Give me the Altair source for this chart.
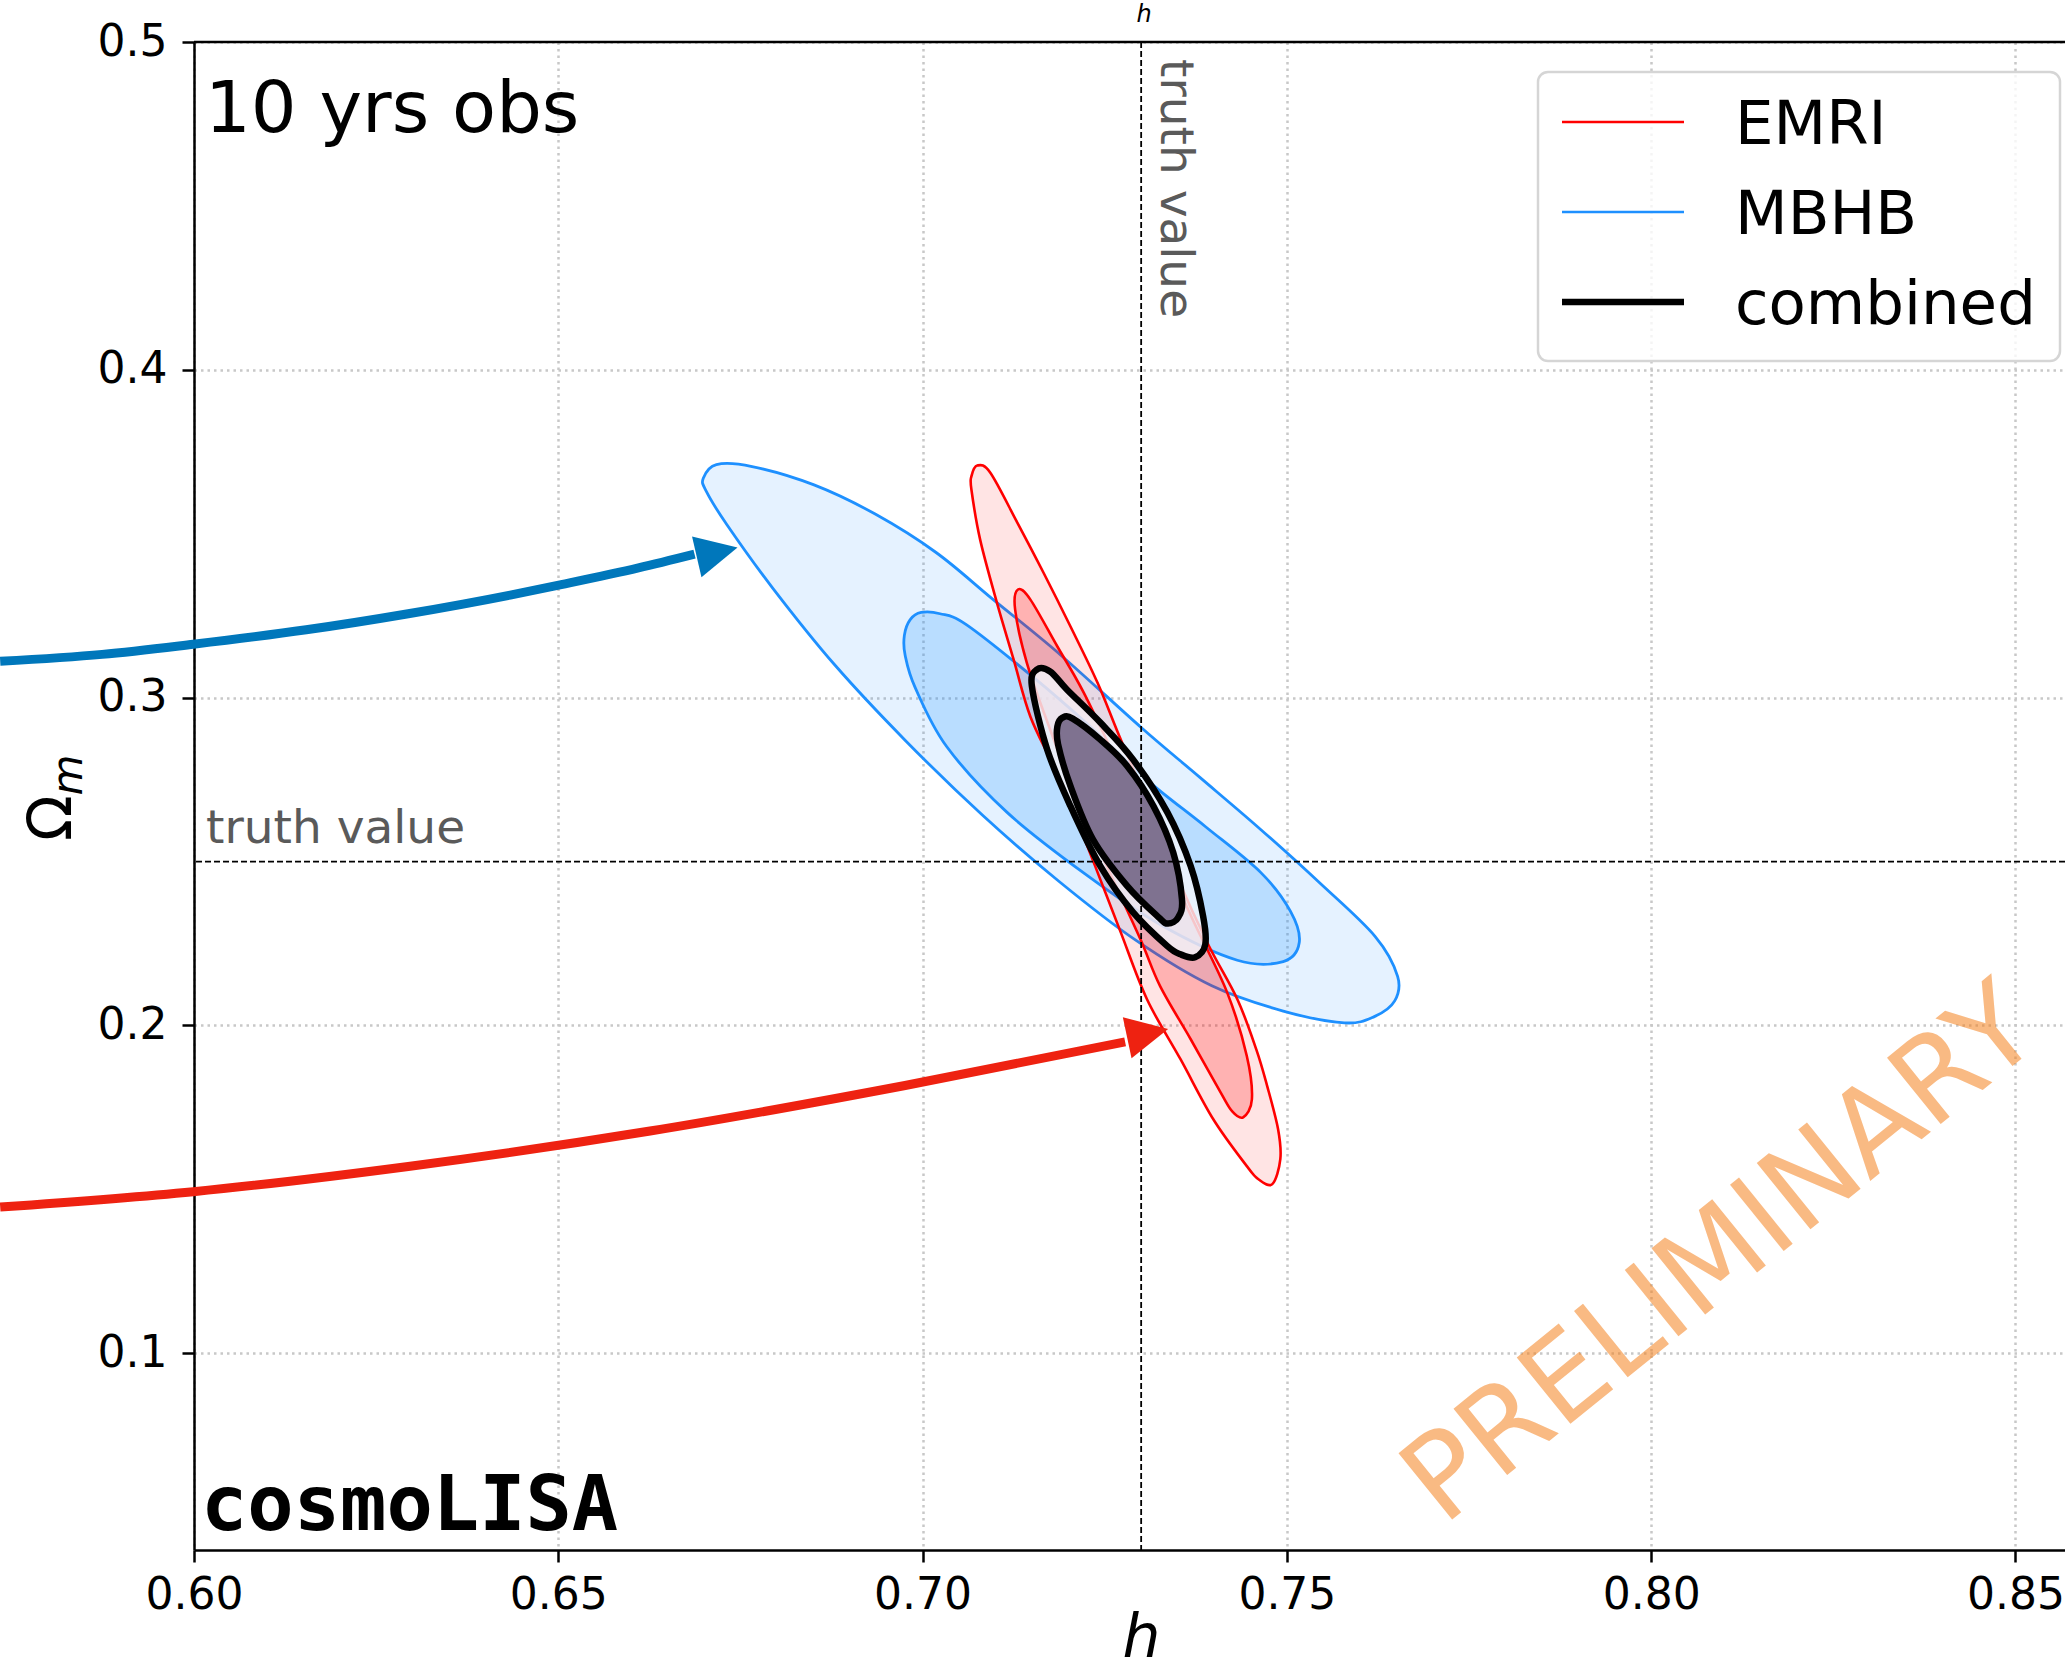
import altair as alt
import pandas as pd

# ---- axes ---------------------------------------------------------------
h_domain = [0.6, 0.8568]
om_domain = [0.04, 0.5]
h_ticks = [0.60, 0.65, 0.70, 0.75, 0.80, 0.85]
om_ticks = [0.1, 0.2, 0.3, 0.4, 0.5]

# fiducial cosmology
h_true = 0.73
om_true = 0.25

# ---- credible-region outlines (vertices in h, Omega_m) ------------------
mbhb_outer_h = [0.6699, 0.6717, 0.6766, 0.6851, 0.6935, 0.7019, 0.7097, 0.7189, 0.7300,
                0.7381, 0.7464, 0.7546, 0.7621, 0.7652, 0.7648, 0.7620, 0.7579, 0.7495,
                0.7397, 0.7292, 0.7187, 0.7082, 0.6977, 0.6879, 0.6794, 0.6731, 0.6703]
mbhb_outer_om = [0.3669, 0.3711, 0.3705, 0.3649, 0.3560, 0.3442, 0.3299, 0.3131, 0.2909,
                 0.2756, 0.2598, 0.2433, 0.2272, 0.2150, 0.2075, 0.2027, 0.2008, 0.2044,
                 0.2121, 0.2261, 0.2440, 0.2642, 0.2868, 0.3101, 0.3335, 0.3529, 0.3630]

mbhb_inner_h = [0.6975, 0.6983, 0.6998, 0.7024, 0.7060, 0.7151, 0.7230, 0.7309, 0.7388,
                0.7464, 0.7505, 0.7517, 0.7495, 0.7432, 0.7326, 0.7222, 0.7116, 0.7033,
                0.6990, 0.6976]
mbhb_inner_om = [0.3190, 0.3238, 0.3260, 0.3256, 0.3223, 0.3064, 0.2912, 0.2747, 0.2607,
                 0.2467, 0.2348, 0.2253, 0.2195, 0.2199, 0.2308, 0.2464, 0.2650, 0.2851,
                 0.3030, 0.3130]

emri_outer_h = [0.7075, 0.7093, 0.7130, 0.7166, 0.7203, 0.7240, 0.7272, 0.7313, 0.7351,
                0.7392, 0.7432, 0.7458, 0.7473, 0.7488, 0.7491, 0.7480, 0.7461, 0.7445,
                0.7399, 0.7354, 0.7308, 0.7272, 0.7244, 0.7217, 0.7182, 0.7148, 0.7125,
                0.7102, 0.7079, 0.7067, 0.7067]
emri_outer_om = [0.3708, 0.3686, 0.3534, 0.3381, 0.3217, 0.3046, 0.2872, 0.2659, 0.2445,
                 0.2247, 0.2080, 0.1927, 0.1815, 0.1683, 0.1592, 0.1516, 0.1531, 0.1571,
                 0.1714, 0.1897, 0.2080, 0.2284, 0.2445, 0.2598, 0.2781, 0.2942, 0.3116,
                 0.3290, 0.3482, 0.3635, 0.3675]

emri_inner_h = [0.7131, 0.7148, 0.7185, 0.7221, 0.7272, 0.7326, 0.7374, 0.7418, 0.7445,
                0.7452, 0.7440, 0.7425, 0.7409, 0.7368, 0.7326, 0.7299, 0.7258, 0.7217,
                0.7175, 0.7143, 0.7127]
emri_inner_om = [0.3330, 0.3299, 0.3156, 0.3016, 0.2781, 0.2537, 0.2308, 0.2101, 0.1907,
                 0.1775, 0.1720, 0.1738, 0.1796, 0.1958, 0.2120, 0.2263, 0.2461, 0.2659,
                 0.2903, 0.3107, 0.3269]

comb_outer_h = [0.7157, 0.7175, 0.7198, 0.7244, 0.7289, 0.7336, 0.7368, 0.7385, 0.7388,
                0.7374, 0.7354, 0.7336, 0.7289, 0.7244, 0.7203, 0.7171, 0.7150]
comb_outer_om = [0.3086, 0.3080, 0.3025, 0.2924, 0.2811, 0.2650, 0.2486, 0.2334, 0.2247,
                 0.2208, 0.2217, 0.2242, 0.2345, 0.2486, 0.2669, 0.2842, 0.3035]

comb_inner_h = [0.7185, 0.7192, 0.7206, 0.7244, 0.7281, 0.7317, 0.7344, 0.7356, 0.7351,
                0.7337, 0.7324, 0.7281, 0.7234, 0.7203, 0.7186]
comb_inner_om = [0.2912, 0.2939, 0.2936, 0.2872, 0.2791, 0.2669, 0.2528, 0.2385, 0.2330,
                 0.2311, 0.2330, 0.2425, 0.2567, 0.2730, 0.2857]

# ---- annotation arrows --------------------------------------------------
blue_arrow_h = [0.5734, 0.5874, 0.5999, 0.6154, 0.6294, 0.6434, 0.6504, 0.6610, 0.6687]
blue_arrow_om = [0.3111, 0.3132, 0.3163, 0.3207, 0.3256, 0.3313, 0.3345, 0.3396, 0.3438]
blue_tip = (0.6746, 0.3458)

red_arrow_h = [0.5734, 0.5999, 0.6294, 0.6626, 0.6976, 0.7278]
red_arrow_om = [0.1446, 0.1493, 0.1570, 0.1678, 0.1817, 0.1950]
red_tip = (0.7337, 0.1989)

legend_labels = ["EMRI", "MBHB", "combined"]
legend_colors = ["#ff0000", "#1e90ff", "#000000"]
legend_widths = [2.7, 2.7, 6.5]

# ---- layout -------------------------------------------------------------
W, H = 1871, 1508
FONT = "DejaVu Sans"

x_enc = alt.X(
    "h:Q",
    scale=alt.Scale(domain=h_domain, nice=False, zero=False),
    axis=alt.Axis(values=h_ticks, format=".2f", orient="bottom", labelPadding=11,
                  title="h", titleFont=FONT, titleFontSize=60, titleFontStyle="italic",
                  titleFontWeight="normal", titleX=947, titleY=106,
                  titleBaseline="alphabetic", titleAlign="center"),
)
y_enc = alt.Y(
    "om:Q",
    scale=alt.Scale(domain=om_domain, nice=False, zero=False),
    axis=alt.Axis(values=om_ticks, format=".1f", title=None, labelPadding=15),
)


def region(h, om, fill, fill_opacity, stroke, width):
    df = pd.DataFrame({"h": h, "om": om, "i": list(range(len(h)))})
    return alt.Chart(df).mark_line(
        interpolate="cardinal-closed", fill=fill, fillOpacity=fill_opacity,
        stroke=stroke, strokeWidth=width, strokeJoin="round",
    ).encode(x=x_enc, y=y_enc, order="i:Q")


def arrow(h, om, tip, color, angle):
    df = pd.DataFrame({"h": h, "om": om, "i": list(range(len(h)))})
    shaft = alt.Chart(df).mark_line(
        interpolate="monotone", color=color, strokeWidth=9, strokeCap="butt",
    ).encode(x=x_enc, y=y_enc, order="i:Q")
    head = alt.Chart(pd.DataFrame({"h": [tip[0]], "om": [tip[1]]})).mark_point(
        shape="M0,0L-2,-1L-2,1Z", size=1750, filled=True, color=color,
        opacity=1, strokeWidth=0, angle=angle,
    ).encode(x=x_enc, y=y_enc)
    return [shaft, head]


def label(text, x, y, size, **kw):
    return alt.Chart(pd.DataFrame({"t": [text]})).mark_text(
        fontSize=size, **kw
    ).encode(x=alt.value(x), y=alt.value(y), text="t:N")


one = pd.DataFrame({"a": [0]})

layers = [
    region(mbhb_outer_h, mbhb_outer_om, "#1e90ff", 0.115, "#1e90ff", 2.8),
    region(mbhb_inner_h, mbhb_inner_om, "#1e90ff", 0.22, "#1e90ff", 2.8),
    region(emri_outer_h, emri_outer_om, "#ff0000", 0.105, "#ff0000", 2.6),
    region(emri_inner_h, emri_inner_om, "#ff0000", 0.22, "#ff0000", 2.6),
    region(comb_outer_h, comb_outer_om, "#f4f6fb", 0.8, "#000000", 6.5),
    region(comb_inner_h, comb_inner_om, "#7f7290", 1.0, "#000000", 6.5),
]

# truth values
layers.append(
    alt.Chart(pd.DataFrame({"h": [h_true]})).mark_rule(
        color="black", strokeWidth=1.8, strokeDash=[6, 3]
    ).encode(x=x_enc)
)
layers.append(
    alt.Chart(pd.DataFrame({"om": [om_true]})).mark_rule(
        color="black", strokeWidth=1.8, strokeDash=[6, 3]
    ).encode(y=y_enc)
)
layers.append(label("truth value", 12, 801, 47, font=FONT, color="#5a5a5a",
                    align="left", baseline="alphabetic"))
layers.append(label("truth value", 967, 17, 47, font=FONT, color="#5a5a5a",
                    align="left", baseline="alphabetic", angle=90))

# arrows pointing at each population's region
layers += arrow(blue_arrow_h, blue_arrow_om, blue_tip, "#0077bb", 347)
layers += arrow(red_arrow_h, red_arrow_om, red_tip, "#ee2211", 348)

# top spine
layers.append(
    alt.Chart(one).mark_rule(color="black", strokeWidth=2.5).encode(
        x=alt.value(0), x2=alt.value(W), y=alt.value(0)
    )
)

# watermark and labels
layers.append(label("PRELIMINARY", 1528, 1214, 117, font=FONT, color="#f5821e",
                    opacity=0.55, align="center", baseline="middle", angle=321))
layers.append(label("10 yrs obs", 11, 90, 72, font=FONT, color="black",
                    align="left", baseline="alphabetic"))
layers.append(label("cosmoLISA", 7, 1488, 77, font="DejaVu Sans Mono",
                    fontWeight="bold", color="black", align="left", baseline="alphabetic"))
layers.append(label("h", 950, -20, 24, font=FONT, fontStyle="italic", color="black",
                    align="center", baseline="alphabetic"))

# y-axis title  Omega_m
layers.append(label("\u03a9", -123, 776, 60, font=FONT, color="black",
                    align="center", baseline="alphabetic", angle=270))
layers.append(label("m", -112, 733, 42, font=FONT, fontStyle="italic", color="black",
                    align="center", baseline="alphabetic", angle=270))

# legend
layers.append(
    alt.Chart(one).mark_rect(
        fill="white", fillOpacity=0.8, stroke="#d5d5d5", strokeWidth=2.5, cornerRadius=10
    ).encode(x=alt.value(1344), x2=alt.value(1866), y=alt.value(30), y2=alt.value(319))
)
for k, (name, col, lw) in enumerate(zip(legend_labels, legend_colors, legend_widths)):
    yk = 80 + 90 * k
    layers.append(
        alt.Chart(one).mark_rule(color=col, strokeWidth=lw).encode(
            x=alt.value(1368), x2=alt.value(1490), y=alt.value(yk)
        )
    )
    layers.append(label(name, 1541, yk + 22, 61, font=FONT, color="black",
                        align="left", baseline="alphabetic"))

chart = alt.layer(*layers).properties(
    width=W,
    height=H,
    autosize=alt.AutoSizeParams(type="none"),
    padding={"left": 194, "top": 42, "right": 0, "bottom": 121},
    background="white",
).configure_view(
    stroke=None
).configure_axis(
    labelFont=FONT,
    labelFontSize=44,
    labelColor="black",
    labelFlush=False,
    labelOverlap=False,
    tickColor="black",
    tickWidth=2.5,
    tickSize=12,
    domainColor="black",
    domainWidth=2.5,
    grid=True,
    gridColor="#c8c8c8",
    gridWidth=2.5,
    gridDash=[2.5, 4],
)

chart.save("out.html", embed_options={"renderer": "svg", "actions": False})
